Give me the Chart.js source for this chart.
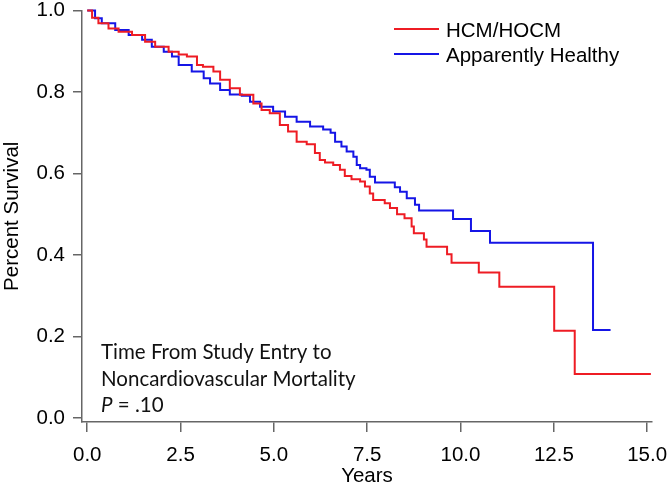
<!DOCTYPE html>
<html>
<head>
<meta charset="utf-8">
<script src="https://cdn.jsdelivr.net/npm/chart.js@4"></script>
<style>
  html, body { margin: 0; padding: 0; background: #fff; }
  #wrap { width: 669px; height: 494px; }
</style>
</head>
<body>
<div id="wrap"><canvas id="km" width="669" height="494"></canvas></div>
<script>
// Kaplan-Meier estimates (years, survival)
const hcmYears = [0, 0.13, 0.30, 0.57, 0.84, 1.20, 1.55, 1.82, 2.18, 2.45, 2.67, 2.94, 3.10, 3.38, 3.56, 3.82,
  4.09, 4.45, 4.67, 4.89, 5.16, 5.38, 5.61, 5.88, 6.10, 6.23, 6.37, 6.59, 6.77, 6.90, 7.08, 7.31, 7.44, 7.57,
  7.66, 7.97, 8.11, 8.30, 8.50, 8.69, 8.75, 9.02, 9.09, 9.64, 9.76, 10.49, 11.04, 12.51, 13.06, 15.10];
const hcmSurv = [1.0, 0.982, 0.969, 0.956, 0.948, 0.940, 0.923, 0.911, 0.899, 0.892, 0.887, 0.866, 0.862, 0.850, 0.830, 0.809,
  0.793, 0.772, 0.756, 0.748, 0.719, 0.703, 0.678, 0.672, 0.650, 0.633, 0.627, 0.621, 0.609, 0.594, 0.586, 0.580, 0.568, 0.551,
  0.535, 0.527, 0.515, 0.500, 0.490, 0.470, 0.453, 0.438, 0.420, 0.402, 0.381, 0.357, 0.322, 0.214, 0.108, 0.108];

const healthyYears = [0, 0.21, 0.39, 0.75, 1.11, 1.47, 1.73, 2.05, 2.27, 2.45, 2.80, 3.12, 3.29, 3.56, 3.82, 4.14,
  4.36, 4.63, 4.98, 5.30, 5.61, 5.97, 6.32, 6.52, 6.64, 6.81, 6.95, 7.13, 7.22, 7.31, 7.48, 7.57, 7.71,
  8.24, 8.38, 8.56, 8.78, 8.89, 9.80, 10.28, 10.79, 13.55, 14.02];
const healthySurv = [1.0, 0.981, 0.969, 0.952, 0.940, 0.928, 0.911, 0.899, 0.887, 0.866, 0.850, 0.834, 0.821, 0.805, 0.794, 0.791,
  0.776, 0.764, 0.752, 0.739, 0.727, 0.715, 0.708, 0.700, 0.678, 0.666, 0.654, 0.641, 0.621, 0.613, 0.609, 0.592, 0.578,
  0.566, 0.555, 0.539, 0.523, 0.509, 0.488, 0.459, 0.430, 0.216, 0.216];

const xTicks = [0, 2.5, 5, 7.5, 10, 12.5, 15];
const yTicks = [0, 0.2, 0.4, 0.6, 0.8, 1.0];
const noteLines = ["Time From Study Entry to", "Noncardiovascular Mortality"];

const axisColor = "#666666";
const sans = "'Liberation Sans', Arial, sans-serif";
const noteFont = "20.5px Lato, 'Open Sans', sans-serif";

function toPoints(xs, ys){
  return xs.map((x, i) => ({ x: x, y: ys[i] }));
}

// legend drawn inside the plot, top right
const kmLegend = {
  id: "kmLegend",
  afterDraw(chart){
    const ctx = chart.ctx;
    ctx.save();
    ctx.font = "20.5px " + sans;
    ctx.textBaseline = "alphabetic";
    chart.data.datasets.forEach((ds, i) => {
      const y = 29 + i * 25;
      ctx.strokeStyle = ds.borderColor;
      ctx.lineWidth = 2;
      ctx.beginPath();
      ctx.moveTo(394, y);
      ctx.lineTo(439, y);
      ctx.stroke();
      ctx.fillStyle = "#000";
      ctx.fillText(ds.label, 446, y + 8);
    });
    ctx.restore();
  }
};

// annotation bottom-left
const kmNote = {
  id: "kmNote",
  afterDraw(chart){
    const ctx = chart.ctx;
    ctx.save();
    ctx.fillStyle = "#111";
    ctx.textBaseline = "alphabetic";
    ctx.font = noteFont;
    ctx.fillText(noteLines[0], 101, 359);
    ctx.fillText(noteLines[1], 101, 385.5);
    ctx.font = "italic " + noteFont;
    ctx.fillText("P", 101, 412);
    const w = ctx.measureText("P").width;
    ctx.font = noteFont;
    ctx.fillText(" = .10", 101 + w, 412);
    ctx.restore();
  }
};

new Chart(document.getElementById("km"), {
  type: "line",
  data: {
    datasets: [
      {
        label: "HCM/HOCM",
        data: toPoints(hcmYears, hcmSurv),
        borderColor: "#ee1c24",
        borderWidth: 2,
        stepped: true,
        pointRadius: 0,
        fill: false,
        clip: false
      },
      {
        label: "Apparently Healthy",
        data: toPoints(healthyYears, healthySurv),
        borderColor: "#1515e6",
        borderWidth: 2,
        stepped: true,
        pointRadius: 0,
        fill: false,
        clip: false
      }
    ]
  },
  options: {
    responsive: false,
    animation: false,
    layout: { padding: { left: 0, right: 17, top: 10.5, bottom: 0 } },
    plugins: {
      legend: { display: false },
      tooltip: { enabled: false }
    },
    scales: {
      x: {
        type: "linear",
        min: -0.14,
        max: 15.13,
        afterBuildTicks: s => { s.ticks = xTicks.map(v => ({ value: v })); },
        afterFit: s => { s.height = 72; s.paddingLeft = 0; s.paddingRight = 0; },
        ticks: {
          color: "#000",
          font: { family: sans, size: 20.5 },
          padding: 11,
          maxRotation: 0,
          callback: v => Number(v).toFixed(1)
        },
        grid: { drawOnChartArea: false, drawTicks: true, tickLength: 10, color: axisColor, lineWidth: 1.5 },
        border: { color: axisColor, width: 1.5 },
        title: {
          display: true,
          text: "Years",
          color: "#000",
          font: { family: sans, size: 20.5 },
          padding: { top: 0, bottom: 5 }
        }
      },
      y: {
        type: "linear",
        min: -0.01,
        max: 1.0,
        afterBuildTicks: s => { s.ticks = yTicks.map(v => ({ value: v })); },
        afterFit: s => { s.width = 82; s.paddingTop = 0; s.paddingBottom = 0; },
        ticks: {
          color: "#000",
          font: { family: sans, size: 20.5 },
          padding: 8,
          callback: v => Number(v).toFixed(1)
        },
        grid: { drawOnChartArea: false, drawTicks: true, tickLength: 9, color: axisColor, lineWidth: 1.5 },
        border: { color: axisColor, width: 1.5 },
        title: {
          display: true,
          text: "Percent Survival",
          color: "#000",
          font: { family: sans, size: 20.5 },
          padding: { top: 0, bottom: 0 }
        }
      }
    }
  },
  plugins: [kmLegend, kmNote]
});
</script>
</body>
</html>
